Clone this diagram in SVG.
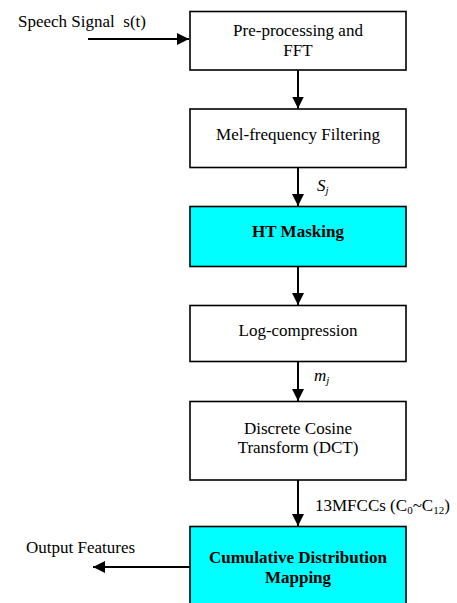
<svg xmlns="http://www.w3.org/2000/svg" width="457" height="603" viewBox="0 0 457 603">
  <style>
    .box { fill: #ffffff; stroke: #000000; stroke-width: 1.6; }
    .hl { fill: #00ffff; stroke: #000000; stroke-width: 1.6; }
    .t { font-family: "Liberation Serif", "Times New Roman", serif; font-size: 17px; fill: #000000; }
    .c { text-anchor: middle; }
    .b { font-weight: bold; }
    .i { font-style: italic; }
    .conn { stroke: #000000; stroke-width: 2; fill: none; marker-end: url(#ah); }
  </style>
  <defs>
    <marker id="ah" markerUnits="userSpaceOnUse" markerWidth="12" markerHeight="12" refX="12" refY="6" orient="auto">
      <path d="M0,0 L12,6 L0,12 Z" fill="#000000"/>
    </marker>
  </defs>
  <rect width="457" height="603" fill="#ffffff"/>

  <g id="input-label">
    <text class="t" x="18" y="27" xml:space="preserve">Speech Signal  s(t)</text>
  </g>

  <g id="preprocessing">
    <rect class="box" x="190" y="11.5" width="216" height="58.5"/>
    <text class="t c" x="298" y="36">Pre-processing and</text>
    <text class="t c" x="298" y="56">FFT</text>
  </g>

  <g id="mel-filter">
    <rect class="box" x="190" y="109" width="216" height="58.5"/>
    <text class="t c" x="298" y="140">Mel-frequency Filtering</text>
  </g>

  <g id="ht-masking">
    <rect class="hl" x="190" y="206.5" width="216" height="60"/>
    <text class="t c b" x="298" y="237">HT Masking</text>
  </g>

  <g id="log-compression">
    <rect class="box" x="190" y="305.5" width="216" height="56"/>
    <text class="t c" x="298" y="336">Log-compression</text>
  </g>

  <g id="dct">
    <rect class="box" x="190" y="401.5" width="216" height="78.5"/>
    <text class="t c" x="298" y="434">Discrete Cosine</text>
    <text class="t c" x="298" y="453">Transform (DCT)</text>
  </g>

  <g id="cdm">
    <rect class="hl" x="190" y="526.5" width="216" height="90"/>
    <text class="t c b" x="298" y="563">Cumulative Distribution</text>
    <text class="t c b" x="298" y="583">Mapping</text>
  </g>

  <g id="output-label">
    <text class="t" x="26" y="553">Output Features</text>
  </g>

  <g id="connectors">
    <line class="conn" x1="88" y1="39" x2="189" y2="39"/>
    <line class="conn" x1="298" y1="70" x2="298" y2="108.5"/>
    <line class="conn" x1="298" y1="167.5" x2="298" y2="206"/>
    <line class="conn" x1="298" y1="266.5" x2="298" y2="305"/>
    <line class="conn" x1="298" y1="361.5" x2="298" y2="401"/>
    <line class="conn" x1="298" y1="480" x2="298" y2="526"/>
    <line class="conn" x1="190" y1="567" x2="93" y2="567"/>
  </g>

  <g id="connector-labels">
    <text class="t i" x="317" y="191">S<tspan font-size="11" dy="3">j</tspan></text>
    <text class="t i" x="314" y="381">m<tspan font-size="11" dy="3">j</tspan></text>
    <text class="t" x="315" y="511">13MFCCs (C<tspan font-size="11" dy="3">0</tspan><tspan dy="-3">~C</tspan><tspan font-size="11" dy="3">12</tspan><tspan dy="-3">)</tspan></text>
  </g>
</svg>
